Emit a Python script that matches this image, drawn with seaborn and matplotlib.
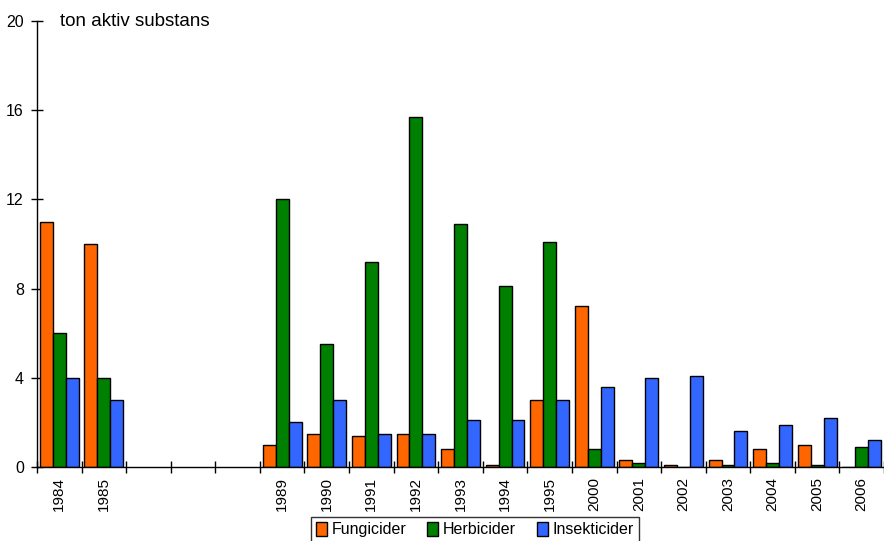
import pandas as pd
import matplotlib
matplotlib.use('Agg')
import matplotlib.pyplot as plt
import seaborn as sns

# kategorier (tomme pladser for 1986-1988)
years = ['1984', '1985', ' ', '  ', '   ', '1989', '1990', '1991', '1992',
         '1993', '1994', '1995', '2000', '2001', '2002', '2003', '2004',
         '2005', '2006']
fungicider = [11, 10, None, None, None, 1.0, 1.5, 1.4, 1.5, 0.8, 0.1, 3.0,
              7.2, 0.3, 0.1, 0.3, 0.8, 1.0, 0]
herbicider = [6, 4, None, None, None, 12.0, 5.5, 9.2, 15.7, 10.9, 8.1, 10.1,
              0.8, 0.2, 0, 0.1, 0.2, 0.1, 0.9]
insekticider = [4, 3, None, None, None, 2.0, 3.0, 1.5, 1.5, 2.1, 2.1, 3.0,
                3.6, 4.0, 4.1, 1.6, 1.9, 2.2, 1.2]
series_names = ['Fungicider', 'Herbicider', 'Insekticider']
colors = ['#FF6600', '#008000', '#3366FF']

rows = []
for name, vals in zip(series_names, [fungicider, herbicider, insekticider]):
    for yr, v in zip(years, vals):
        if v is not None:
            rows.append({'year': yr, 'type': name, 'ton': v})
df = pd.DataFrame(rows)

sns.set_style('white')
plt.rcParams['font.family'] = ['Liberation Sans', 'DejaVu Sans']
plt.rcParams['text.color'] = 'black'

fig = plt.figure(figsize=(8.84, 5.41), dpi=100)
ax = fig.add_axes([37 / 884, 74 / 541, 847 / 884, 446 / 541])

sns.barplot(data=df, x='year', y='ton', hue='type', order=years,
            hue_order=series_names, palette=colors, width=0.87,
            edgecolor='black', linewidth=1, saturation=1, ax=ax)

ax.set_xlim(-0.5, len(years) - 0.5)
ax.set_ylim(0, 20)
ax.set_yticks([0, 4, 8, 12, 16, 20])
ax.tick_params(axis='y', left=True, direction='inout', length=9, width=1,
               labelsize=11.5, colors='black', pad=5)

# skillelinjer mellem kategorier som store ticks, etiketter som minor
ax.set_xticks([i - 0.5 for i in range(len(years) + 1)])
ax.set_xticklabels([])
ax.set_xticks(range(len(years)), minor=True)
ax.set_xticklabels([y.strip() for y in years], minor=True, rotation=90,
                   fontsize=11)
ax.tick_params(axis='x', which='major', bottom=True, direction='inout',
               length=9, width=1, colors='black')
ax.tick_params(axis='x', which='minor', bottom=True, length=0, pad=7,
               colors='black')

for side in ['top', 'right']:
    ax.spines[side].set_visible(False)
for side in ['left', 'bottom']:
    ax.spines[side].set_color('black')
    ax.spines[side].set_linewidth(1)

ax.set_xlabel('')
ax.set_ylabel('')
ax.text(0.027, 1.0, 'ton aktiv substans', transform=ax.transAxes,
        fontsize=13.5, va='center', ha='left')

handles, labels = ax.get_legend_handles_labels()
ax.get_legend().remove()
leg = fig.legend(handles, labels, loc='upper center',
                 bbox_to_anchor=(475 / 884, 1 - 517 / 541), ncol=3,
                 frameon=True, fancybox=False, fontsize=11.5,
                 handlelength=0.7, handleheight=1.0, handletextpad=0.3,
                 columnspacing=1.3, borderpad=0.3, borderaxespad=0)
leg.get_frame().set_edgecolor('black')
leg.get_frame().set_linewidth(1)

fig.savefig('out.png', dpi=100)
